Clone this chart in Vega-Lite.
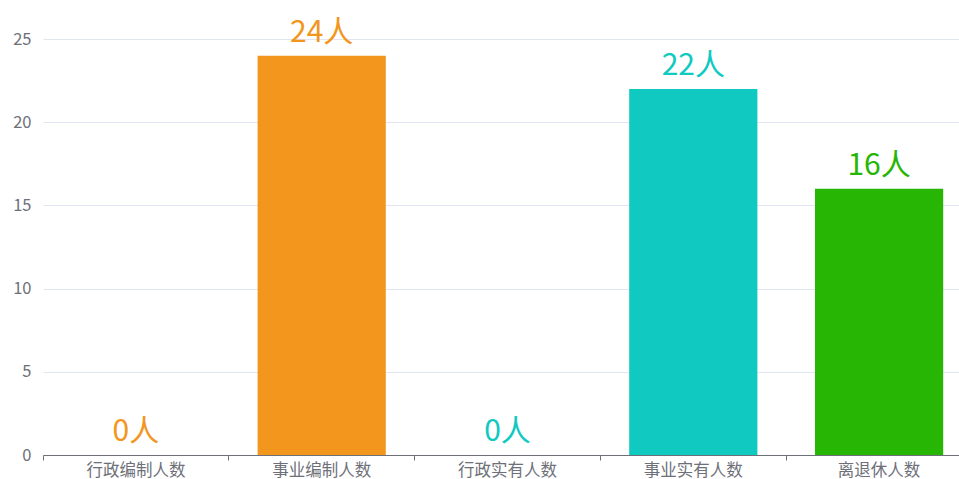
{
  "$schema": "https://vega.github.io/schema/vega-lite/v6.json",
  "width": 929,
  "height": 416,
  "autosize": {"type": "none"},
  "padding": {"left": 43, "top": 39, "right": 0, "bottom": 24},
  "background": "white",
  "config": {"view": {"stroke": null}, "font": "Noto Sans CJK SC"},
  "data": {"values": [
    {"name": "行政编制人数", "value": 0, "label": "0人", "group": "编制"},
    {"name": "事业编制人数", "value": 24, "label": "24人", "group": "编制"},
    {"name": "行政实有人数", "value": 0, "label": "0人", "group": "实有"},
    {"name": "事业实有人数", "value": 22, "label": "22人", "group": "实有"},
    {"name": "离退休人数", "value": 16, "label": "16人", "group": "离退休"}
  ]},
  "encoding": {
    "x": {"field": "name", "type": "nominal", "sort": null,
      "scale": {"paddingInner": 0, "paddingOuter": 0},
      "axis": {"title": null, "labelAngle": 0, "labelFontSize": 16.5, "labelColor": "#6E7079",
        "domainColor": "#6E7079", "tickColor": "#6E7079", "tickSize": 5, "bandPosition": 0,
        "labelPadding": 2, "grid": false}},
    "y": {"field": "value", "type": "quantitative",
      "scale": {"domain": [0, 25], "nice": false},
      "axis": {"title": null, "values": [0, 5, 10, 15, 20, 25], "domain": false, "ticks": false,
        "labelFontSize": 16.5, "labelColor": "#6E7079", "labelPadding": 12,
        "gridColor": "#E0E6F1", "gridWidth": 1}},
    "color": {"field": "group", "type": "nominal", "legend": null,
      "scale": {"domain": ["编制", "实有", "离退休"], "range": ["#F2961E", "#10C9C1", "#27B604"]}}
  },
  "layer": [
    {"mark": {"type": "bar", "width": {"band": 0.69}}},
    {"mark": {"type": "text", "fontSize": 30, "baseline": "alphabetic", "dy": -14},
      "encoding": {"text": {"field": "label", "type": "nominal"}}}
  ]
}
